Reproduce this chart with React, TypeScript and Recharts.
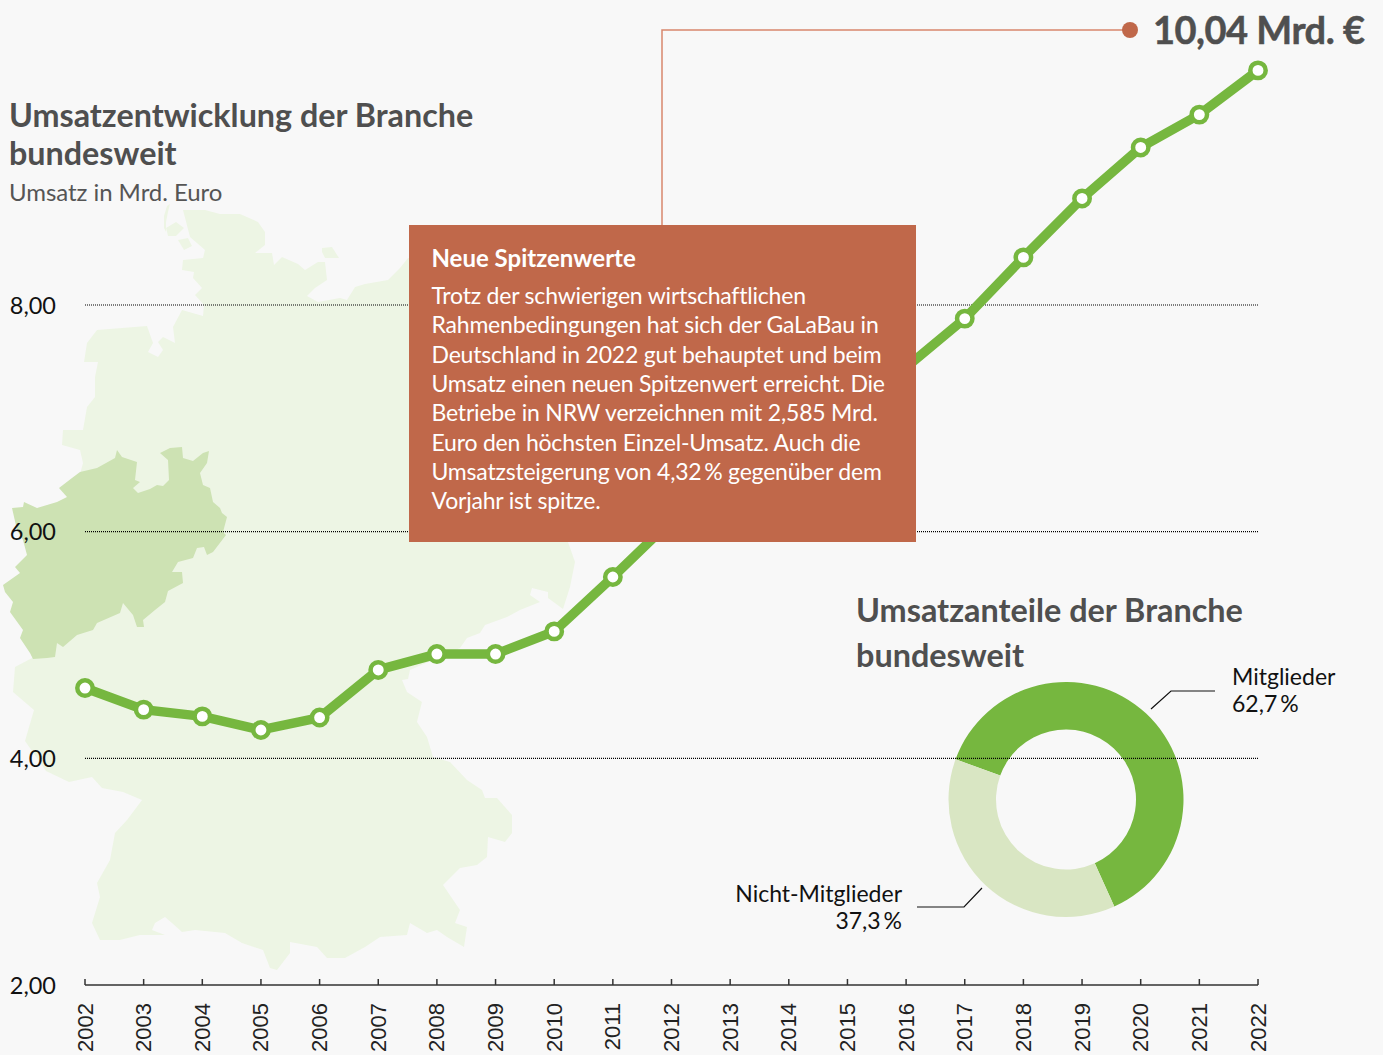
import React from 'react';
import { LineChart, Line, XAxis, YAxis, CartesianGrid, PieChart, Pie, Cell } from 'recharts';

const years = ['2002', '2003', '2004', '2005', '2006', '2007', '2008', '2009', '2010', '2011', '2012', '2013', '2014', '2015', '2016', '2017', '2018', '2019', '2020', '2021', '2022'];
const revenue = [4.62, 4.43, 4.37, 4.25, 4.36, 4.78, 4.92, 4.92, 5.12, 5.6, 6.1, 6.35, 6.65, 7.0, 7.45, 7.88, 8.42, 8.94, 9.39, 9.68, 10.07];
const yTicks = [2, 4, 6, 8];
const gridValues = [4, 6, 8];

const shareNames = ['Mitglieder', 'Nicht-Mitglieder'];
const shareValues = [62.7, 37.3];
const shareColors = ['#76b73f', '#d9e6c3'];

const boxTitle = 'Neue Spitzenwerte';
const boxLines = [
  'Trotz der schwierigen wirtschaftlichen',
  'Rahmenbedingungen hat sich der GaLaBau in',
  'Deutschland in 2022 gut behauptet und beim',
  'Umsatz einen neuen Spitzenwert erreicht. Die',
  'Betriebe in NRW verzeichnen mit 2,585 Mrd.',
  'Euro den höchsten Einzel-Umsatz. Auch die',
  'Umsatzsteigerung von 4,32\u2009% gegenüber dem',
  'Vorjahr ist spitze.',
];

// background map, only decoration
const germany = '183,210 205,210 220,214 240,214 258,222 265,232 265,245 255,253 272,253 274,265 282,257 298,264 305,270 318,262 325,262 327,280 315,288 307,296 318,302 340,298 347,300 355,287 365,284 388,280 400,268 408,258 420,260 560,400 568,542 575,562 570,587 563,609 548,598 548,592 532,588 530,595 540,602 520,610 507,617 485,625 480,633 467,638 460,648 410,670 408,679 402,680 407,692 422,702 417,722 427,737 433,757 450,762 467,780 482,790 485,798 497,798 512,815 512,833 505,842 488,837 487,857 477,865 460,868 443,885 460,910 455,923 467,927 464,947 447,937 437,930 427,933 410,923 407,935 380,937 365,947 345,958 327,958 317,947 290,942 290,953 277,970 270,968 263,950 242,943 225,933 195,930 182,932 172,923 165,917 155,923 152,930 165,935 140,935 120,940 100,940 92,923 100,897 97,883 110,860 115,833 127,820 142,800 123,792 102,788 92,777 69,782 46,771 25,741 34,710 13,692 15,667 34,657 60,550 83,463 80,450 62,445 63,430 83,430 87,407 95,397 95,377 98,362 84,362 87,343 97,330 147,326 153,343 148,352 158,357 163,350 158,342 163,337 175,343 173,327 182,310 203,316 204,305 195,295 202,288 193,278 194,272 182,270 183,260 203,258 205,250 190,237';
const islands = [
  '322,248 332,247 339,258 325,258 322,252',
  '167,206 170,204 168,212 166,222 166,232 164,228 164,216',
  '166,228 176,222 184,228 176,236 168,236',
  '178,240 188,238 192,246 184,250',
];
const nrw = '117,450 122,457 137,462 135,480 140,482 133,488 138,493 150,489 157,485 163,486 169,480 168,460 160,453 170,448 182,447 183,458 193,461 203,453 209,451 207,463 200,473 203,485 210,488 213,502 220,508 222,513 227,517 223,532 226,535 213,552 207,555 204,547 197,548 193,558 178,562 172,572 182,572 183,583 168,591 165,602 155,610 143,620 144,627 137,627 133,615 123,603 120,613 97,623 93,630 77,635 63,647 57,643 55,657 47,658 33,659 30,653 20,638 23,630 10,612 13,602 5,592 3,585 20,573 15,567 27,555 23,540 17,530 12,508 23,507 24,502 37,508 57,502 67,497 59,488 72,478 80,472 97,468 115,458';

const chartData = years.map((year, i) => ({ year, value: revenue[i] }));
const pieData = shareNames.map((name, i) => ({ name, value: shareValues[i] }));

const font = 'Lato, sans-serif';
const heading = '#4f4f4f';

const YearTick = ({ x, y, payload }: any) => (
  <g>
    <line x1={x} x2={x} y1={y - 6} y2={y} stroke="#333" strokeWidth={1.5} />
    <text
      transform={`translate(${x + 7.5},${y + 18}) rotate(-90)`}
      textAnchor="end"
      fontFamily="Liberation Sans, Arial, sans-serif"
      fontSize={22}
      fill="#222"
    >
      {payload.value}
    </text>
  </g>
);

const Txt = ({ x, y, right, size, bold, color, spacing, stroke, children }: any) => (
  <div
    style={{
      position: 'absolute',
      left: right === undefined ? x : undefined,
      right: right === undefined ? undefined : 1383 - right,
      top: y,
      fontFamily: font,
      fontSize: size,
      fontWeight: bold ? 700 : 400,
      color,
      letterSpacing: spacing,
      WebkitTextStroke: stroke,
      lineHeight: 1,
      whiteSpace: 'nowrap',
      transform: 'translateY(-50%)',
    }}
  >
    {children}
  </div>
);

export default function App() {
  return (
    <div style={{ position: 'absolute', left: 0, top: 0, width: 1383, height: 1055, background: '#f8f8f8', overflow: 'hidden' }}>
      <svg width={1383} height={1055} style={{ position: 'absolute', left: 0, top: 0 }}>
        <polygon points={germany} fill="#edf5e4" />
        {islands.map((points) => (
          <polygon key={points} points={points} fill="#edf5e4" />
        ))}
        <polygon points={nrw} fill="#cde2b3" />
      </svg>

      {/* Donut */}
      <div style={{ position: 'absolute', left: 946, top: 680 }}>
        <PieChart width={240} height={240} margin={{ top: 0, right: 0, bottom: 0, left: 0 }}>
          <Pie
            data={pieData}
            dataKey="value"
            cx={120}
            cy={119.5}
            innerRadius={70}
            outerRadius={117.5}
            startAngle={160}
            endAngle={-200}
            stroke="none"
            isAnimationActive={false}
          >
            {pieData.map((entry, index) => (
              <Cell key={`cell-${index}`} fill={shareColors[index]} />
            ))}
          </Pie>
        </PieChart>
      </div>

      {/* Main line */}
      <div style={{ position: 'absolute', left: 0, top: 0 }}>
        <LineChart width={1383} height={1055} data={chartData} margin={{ top: 21.67, right: 125, bottom: 0, left: 0 }}>
          <CartesianGrid vertical={false} horizontalValues={gridValues} stroke="#000" strokeWidth={1.2} strokeDasharray="1 1" />
          <XAxis
            dataKey="year"
            scale="point"
            padding={{ left: 0, right: 0 }}
            height={70}
            interval={0}
            tickSize={0}
            tickMargin={0}
            tickLine={false}
            axisLine={{ stroke: '#333', strokeWidth: 1.5 }}
            tick={<YearTick />}
          />
          <YAxis
            domain={[2, 10.5]}
            ticks={yTicks}
            width={85}
            axisLine={false}
            tickLine={false}
            tickSize={0}
            tickMargin={29}
            tick={{ fontFamily: font, fontSize: 23.5, fill: '#111', dy: 0.3 }}
            tickFormatter={(v: number) => v.toFixed(2).replace('.', ',')}
          />
          <Line
            dataKey="value"
            stroke="#76b73f"
            strokeWidth={9.5}
            dot={{ r: 7.7, fill: '#fff', stroke: '#76b73f', strokeWidth: 4.5, fillOpacity: 1 }}
            activeDot={false}
            isAnimationActive={false}
          />
        </LineChart>
      </div>

      {/* Leader lines */}
      <svg width={1383} height={1055} style={{ position: 'absolute', left: 0, top: 0 }}>
        <polyline points="662,226 662,30 1130,30" fill="none" stroke="#d8866c" strokeWidth={1.5} />
        <circle cx={1130} cy={30} r={8} fill="#c0684a" />
        <polyline points="1151,709 1171,691 1215,691" fill="none" stroke="#111" strokeWidth={1.2} />
        <polyline points="917,907 964,907 982,888" fill="none" stroke="#111" strokeWidth={1.2} />
      </svg>

      <Txt x={1153} y={29} size={38} bold color={heading} spacing={-0.5} stroke="0.5px #4f4f4f">10,04 Mrd. €</Txt>
      <Txt x={9} y={115} size={32.3} bold color={heading}>Umsatzentwicklung der Branche</Txt>
      <Txt x={9} y={153} size={32.3} bold color={heading}>bundesweit</Txt>
      <Txt x={9} y={192} size={24} color="#555" spacing={-0.05}>Umsatz in Mrd. Euro</Txt>

      <Txt x={856} y={610} size={32.4} bold color={heading}>Umsatzanteile der Branche</Txt>
      <Txt x={856} y={655} size={32.4} bold color={heading}>bundesweit</Txt>

      <Txt x={1232} y={676} size={23} color="#111">{shareNames[0]}</Txt>
      <Txt x={1232} y={703} size={23} color="#111">62,7{'\u2009'}%</Txt>
      <Txt right={902} y={893} size={23} color="#111">{shareNames[1]}</Txt>
      <Txt right={902} y={920} size={23} color="#111">37,3{'\u2009'}%</Txt>

      {/* Text box */}
      <div style={{ position: 'absolute', left: 409, top: 225, width: 507, height: 317, background: '#c0684a' }} />
      <Txt x={431.5} y={257.5} size={24} bold color="#fff">{boxTitle}</Txt>
      {boxLines.map((line, i) => (
        <Txt key={line} x={431.5} y={295 + i * 29.3} size={23} color="#fff" spacing={-0.2}>{line}</Txt>
      ))}
    </div>
  );
}
